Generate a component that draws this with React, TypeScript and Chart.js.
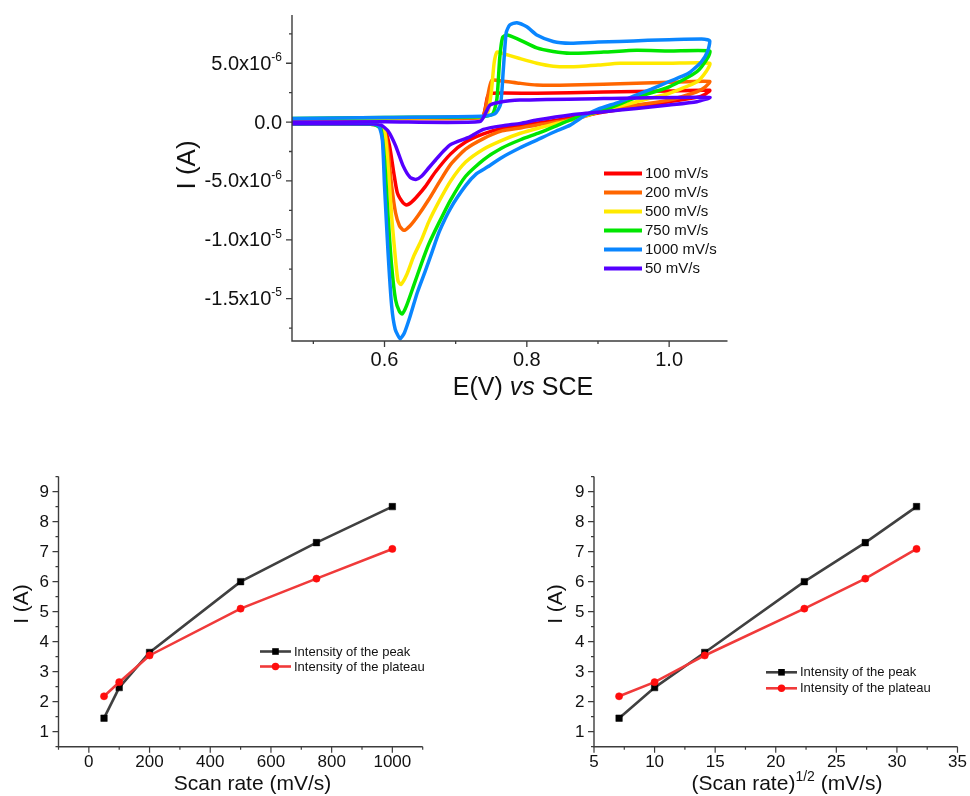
import React, { useEffect, useRef } from "react";
import { Chart, registerables } from "chart.js";

Chart.register(...registerables);

const FONT = '"Liberation Sans", Arial, Helvetica, sans-serif';
const AXIS_COLOR = "#3c3c3c";
const TEXT_COLOR = "#111111";

// ---------------- Top panel: cyclic voltammograms (E in V, I in µA) ----------------
const cvLabels = ["100 mV/s", "200 mV/s", "500 mV/s", "750 mV/s", "1000 mV/s", "50 mV/s"];
const cvColors = ["#ff0000", "#ff6600", "#ffea00", "#00e600", "#0a86ff", "#5500ff"];
const cvDrawOrder = [5, 4, 3, 2, 1, 0];

const E100 = [0.47, 0.60, 0.737, 0.741, 0.745, 0.750, 0.814, 0.908, 1.000, 1.057, 1.050, 1.039, 1.000, 0.954, 0.908, 0.861, 0.818, 0.791, 0.765, 0.739, 0.714, 0.693, 0.672, 0.657, 0.646, 0.638, 0.631, 0.626, 0.618, 0.613, 0.607, 0.600, 0.590, 0.580, 0.47];
const I100 = [0.2, 0.3, 0.4, 1.0, 2.2, 2.45, 2.45, 2.55, 2.65, 2.7, 2.35, 2.1, 1.73, 1.3, 0.85, 0.35, -0.05, -0.3, -0.55, -1.0, -1.7, -2.7, -4.2, -5.5, -6.3, -6.8, -7.05, -6.85, -6.0, -4.3, -2.0, -0.6, -0.25, -0.18, -0.15];

const E200 = [0.47, 0.60, 0.737, 0.742, 0.747, 0.751, 0.765, 0.790, 0.814, 0.861, 0.954, 1.000, 1.057, 1.050, 1.039, 1.000, 0.954, 0.908, 0.870, 0.818, 0.791, 0.765, 0.739, 0.714, 0.693, 0.677, 0.662, 0.6465, 0.636, 0.627, 0.621, 0.6155, 0.610, 0.605, 0.600, 0.590, 0.580, 0.47];
const I200 = [0.2, 0.3, 0.4, 1.2, 2.8, 3.55, 3.5, 3.3, 3.15, 3.15, 3.3, 3.38, 3.45, 2.95, 2.58, 1.87, 1.45, 0.95, 0.3, -0.2, -0.5, -0.75, -1.4, -2.3, -3.6, -5.1, -6.6, -8.0, -8.8, -9.2, -8.8, -7.7, -5.4, -2.5, -0.7, -0.25, -0.18, -0.15];

const E500 = [0.47, 0.60, 0.737, 0.745, 0.750, 0.754, 0.758, 0.765, 0.790, 0.814, 0.837, 0.861, 0.900, 0.931, 1.000, 1.057, 1.052, 1.039, 1.000, 0.954, 0.908, 0.861, 0.843, 0.817, 0.791, 0.765, 0.739, 0.714, 0.693, 0.677, 0.662, 0.652, 0.641, 0.631, 0.623, 0.619, 0.6155, 0.610, 0.605, 0.600, 0.590, 0.580, 0.47];
const I500 = [0.25, 0.35, 0.45, 0.8, 2.5, 5.0, 5.95, 5.85, 5.4, 5.0, 4.75, 4.7, 4.85, 5.0, 5.0, 5.0, 4.3, 3.43, 2.44, 1.73, 1.0, 0.15, -0.1, -0.5, -0.95, -1.55, -2.3, -3.4, -5.0, -6.7, -8.5, -10.0, -11.4, -13.0, -13.8, -13.5, -11.7, -8.0, -3.7, -0.8, -0.25, -0.18, -0.15];

const E750 = [0.47, 0.60, 0.737, 0.752, 0.758, 0.762, 0.766, 0.772, 0.786, 0.814, 0.837, 0.861, 0.908, 0.954, 1.000, 1.057, 1.055, 1.039, 1.000, 0.954, 0.908, 0.870, 0.843, 0.818, 0.791, 0.765, 0.739, 0.714, 0.693, 0.677, 0.662, 0.652, 0.641, 0.631, 0.625, 0.621, 0.6155, 0.610, 0.605, 0.600, 0.595, 0.585, 0.47];
const I750 = [0.3, 0.4, 0.45, 0.7, 2.0, 5.5, 7.2, 7.4, 7.1, 6.3, 6.0, 5.85, 5.95, 6.1, 6.05, 6.05, 5.55, 4.28, 3.0, 2.1, 1.02, 0.4, -0.28, -0.9, -1.5, -2.2, -3.2, -4.6, -6.6, -8.5, -10.4, -12.0, -13.9, -15.6, -16.3, -16.1, -15.1, -12.2, -8.0, -3.2, -0.6, -0.2, -0.15];

const E1000 = [0.47, 0.60, 0.737, 0.755, 0.763, 0.767, 0.771, 0.776, 0.786, 0.800, 0.814, 0.837, 0.861, 0.900, 0.930, 0.970, 1.000, 1.050, 1.057, 1.054, 1.045, 1.026, 1.000, 0.975, 0.950, 0.930, 0.900, 0.880, 0.861, 0.840, 0.814, 0.790, 0.765, 0.745, 0.729, 0.714, 0.693, 0.677, 0.667, 0.657, 0.646, 0.636, 0.628, 0.622, 0.615, 0.610, 0.605, 0.600, 0.597, 0.592, 0.580, 0.47];
const I1000 = [0.3, 0.4, 0.5, 0.7, 1.5, 4.5, 7.6, 8.25, 8.45, 8.1, 7.4, 6.85, 6.7, 6.8, 6.85, 6.95, 7.0, 7.05, 6.9, 6.0, 5.1, 4.1, 3.45, 2.8, 2.2, 1.7, 1.1, 0.5, -0.26, -0.8, -1.53, -2.2, -3.0, -3.8, -4.4, -5.4, -7.3, -9.3, -11.0, -12.7, -14.5, -16.5, -17.9, -18.4, -17.6, -15.6, -11.1, -5.4, -1.5, -0.34, -0.15, -0.15];

const E50 = [0.47, 0.60, 0.734, 0.744, 0.748, 0.758, 0.790, 0.908, 1.057, 1.039, 1.000, 0.954, 0.908, 0.861, 0.814, 0.791, 0.767, 0.739, 0.720, 0.693, 0.683, 0.672, 0.662, 0.652, 0.644, 0.636, 0.626, 0.6155, 0.605, 0.595, 0.580, 0.47];
const I50 = [0.0, 0.03, 0.05, 1.0, 1.45, 1.65, 1.87, 2.0, 2.1, 1.73, 1.45, 1.16, 0.88, 0.6, 0.17, -0.11, -0.3, -0.62, -1.25, -1.9, -2.46, -3.2, -3.9, -4.6, -4.87, -4.7, -3.7, -2.0, -0.76, -0.25, -0.15, -0.15];

const cvE = [E100, E200, E500, E750, E1000, E50];
const cvI = [I100, I200, I500, I750, I1000, I50];

const cvXMajor = [0.6, 0.8, 1.0];
const cvXLabels = ["0.6", "0.8", "1.0"];
const cvXMinor = [0.5, 0.7, 0.9];
const cvYMajor = [-15, -10, -5, 0, 5];
const cvYBase = ["-1.5x10", "-1.0x10", "-5.0x10", "0.0", "5.0x10"];
const cvYExp = ["-5", "-5", "-6", "", "-6"];
const cvYMinor = [-17.5, -12.5, -7.5, -2.5, 2.5, 7.5];

// ---------------- Bottom panels ----------------
const scanRates = [50, 100, 200, 500, 750, 1000];
const sqrtScanRates = [7.07, 10.0, 14.14, 22.36, 27.39, 31.62];
const peakIntensity = [1.45, 2.47, 3.64, 6.0, 7.3, 8.5];
const plateauIntensity = [2.18, 2.65, 3.54, 5.1, 6.1, 7.09];
const seriesNames = ["Intensity of the peak", "Intensity of the plateau"];

const rateXMajor = [0, 200, 400, 600, 800, 1000];
const rateXMinor = [-100, 100, 300, 500, 700, 900, 1100];
const sqrtXMajor = [5, 10, 15, 20, 25, 30, 35];
const sqrtXMinor = [7.5, 12.5, 17.5, 22.5, 27.5, 32.5];
const intYMajor = [1, 2, 3, 4, 5, 6, 7, 8, 9];
const intYMinor = [0.5, 1.5, 2.5, 3.5, 4.5, 5.5, 6.5, 7.5, 8.5, 9.5];

// ---------------- helpers ----------------
function drawAxes(chart: any, s: any) {
  const ctx = chart.ctx;
  const { left, right, top, bottom } = chart.chartArea;
  const xs = chart.scales.x;
  const ys = chart.scales.y;
  ctx.save();
  ctx.strokeStyle = AXIS_COLOR;
  ctx.lineWidth = s.axisWidth;
  ctx.beginPath();
  ctx.moveTo(left, top);
  ctx.lineTo(left, bottom);
  ctx.lineTo(right, bottom);
  ctx.stroke();
  ctx.lineWidth = s.tickWidth;
  ctx.beginPath();
  s.xMajor.forEach((v: number) => {
    const p = xs.getPixelForValue(v);
    ctx.moveTo(p, bottom);
    ctx.lineTo(p, bottom + s.majorLen);
  });
  s.xMinor.forEach((v: number) => {
    const p = xs.getPixelForValue(v);
    ctx.moveTo(p, bottom);
    ctx.lineTo(p, bottom + s.minorLen);
  });
  s.yMajor.forEach((v: number) => {
    const p = ys.getPixelForValue(v);
    ctx.moveTo(left, p);
    ctx.lineTo(left - s.majorLen, p);
  });
  s.yMinor.forEach((v: number) => {
    const p = ys.getPixelForValue(v);
    ctx.moveTo(left, p);
    ctx.lineTo(left - s.minorLen, p);
  });
  ctx.stroke();

  ctx.fillStyle = TEXT_COLOR;
  ctx.font = s.tickFont;
  ctx.textAlign = "center";
  ctx.textBaseline = "middle";
  s.xMajor.forEach((v: number, i: number) => {
    ctx.fillText(s.xLabels[i], xs.getPixelForValue(v), bottom + s.xLabelDy);
  });
  ctx.restore();
}

function drawRotatedTitle(ctx: any, text: string, x: number, y: number, font: string) {
  ctx.save();
  ctx.translate(x, y);
  ctx.rotate(-Math.PI / 2);
  ctx.font = font;
  ctx.fillStyle = TEXT_COLOR;
  ctx.textAlign = "center";
  ctx.textBaseline = "middle";
  ctx.fillText(text, 0, 0);
  ctx.restore();
}

// ---------------- chart configs ----------------
function cvConfig() {
  const datasets = cvLabels.map((label, k) => ({
    label,
    data: cvE[k].map((e, i) => ({ x: e, y: cvI[k][i] })),
    borderColor: cvColors[k],
    backgroundColor: cvColors[k],
    borderWidth: 3.5,
    pointRadius: 0,
    tension: 0.2,
    fill: false,
    order: cvDrawOrder[k],
  }));
  const decor = {
    id: "cvDecor",
    afterDraw(chart: any) {
      const ctx = chart.ctx;
      const { left } = chart.chartArea;
      const ys = chart.scales.y;
      drawAxes(chart, {
        axisWidth: 1.4, tickWidth: 1.3, majorLen: 6, minorLen: 3,
        xMajor: cvXMajor, xMinor: cvXMinor, xLabels: cvXLabels,
        yMajor: cvYMajor, yMinor: cvYMinor,
        tickFont: `20px ${FONT}`, xLabelDy: 19.5,
      });
      // y tick labels with superscript exponents
      ctx.save();
      ctx.fillStyle = TEXT_COLOR;
      ctx.textBaseline = "middle";
      ctx.textAlign = "right";
      cvYMajor.forEach((v, i) => {
        const py = ys.getPixelForValue(v);
        const xr = left - 10;
        let supW = 0;
        if (cvYExp[i]) {
          ctx.font = `12px ${FONT}`;
          supW = ctx.measureText(cvYExp[i]).width;
          ctx.fillText(cvYExp[i], xr, py - 5.5);
        }
        ctx.font = `20px ${FONT}`;
        ctx.fillText(cvYBase[i], xr - supW, py + 1);
      });
      ctx.restore();
      // x title: E(V) vs SCE
      ctx.save();
      ctx.fillStyle = TEXT_COLOR;
      ctx.textBaseline = "alphabetic";
      ctx.textAlign = "left";
      const parts = [
        { t: "E(V) ", f: `25px ${FONT}` },
        { t: "vs", f: `italic 25px ${FONT}` },
        { t: " SCE", f: `25px ${FONT}` },
      ];
      let total = 0;
      parts.forEach((p) => { ctx.font = p.f; total += ctx.measureText(p.t).width; });
      let x = 523 - total / 2;
      parts.forEach((p) => { ctx.font = p.f; ctx.fillText(p.t, x, 395); x += ctx.measureText(p.t).width; });
      ctx.restore();
      drawRotatedTitle(ctx, "I (A)", 188, 165, `26px ${FONT}`);
      // legend
      ctx.save();
      ctx.font = `15px ${FONT}`;
      ctx.textAlign = "left";
      ctx.textBaseline = "middle";
      cvLabels.forEach((lab, i) => {
        const y = 173.5 + 19 * i;
        ctx.strokeStyle = cvColors[i];
        ctx.lineWidth = 4;
        ctx.beginPath();
        ctx.moveTo(604, y);
        ctx.lineTo(642, y);
        ctx.stroke();
        ctx.fillStyle = TEXT_COLOR;
        ctx.fillText(lab, 645, y + 0.5);
      });
      ctx.restore();
    },
  };
  return {
    type: "line",
    data: { datasets },
    options: {
      animation: false,
      responsive: false,
      devicePixelRatio: 1,
      layout: { padding: { left: 0, top: 15, right: 970 - 727.5, bottom: 0 } },
      plugins: { legend: { display: false }, tooltip: { enabled: false } },
      scales: {
        x: {
          type: "linear", min: 0.47, max: 1.082,
          grid: { display: false, drawTicks: false }, border: { display: false },
          ticks: { display: false },
          afterFit: (sc: any) => { sc.height = 420 - 341; },
        },
        y: {
          type: "linear", min: -18.6, max: 9.1,
          grid: { display: false, drawTicks: false }, border: { display: false },
          ticks: { display: false },
          afterFit: (sc: any) => { sc.width = 292; },
        },
      },
    },
    plugins: [decor],
  };
}

function intensityConfig(opts: any) {
  const xVals = opts.xVals;
  const datasets = [
    {
      label: seriesNames[0],
      data: xVals.map((x: number, i: number) => ({ x, y: peakIntensity[i] })),
      borderColor: "#404040",
      backgroundColor: "#000000",
      pointBackgroundColor: "#000000",
      pointBorderColor: "#000000",
      pointStyle: "rect",
      pointRadius: 4.6,
      pointBorderWidth: 0.5,
      borderWidth: 2.6,
      tension: 0,
      order: 1,
    },
    {
      label: seriesNames[1],
      data: xVals.map((x: number, i: number) => ({ x, y: plateauIntensity[i] })),
      borderColor: "#f03a3a",
      backgroundColor: "#ff0d0d",
      pointBackgroundColor: "#ff0d0d",
      pointBorderColor: "#ff0d0d",
      pointStyle: "circle",
      pointRadius: 3.6,
      pointBorderWidth: 0.5,
      borderWidth: 2.6,
      tension: 0,
      order: 0,
    },
  ];
  const decor = {
    id: "intDecor",
    afterDraw(chart: any) {
      const ctx = chart.ctx;
      const { left } = chart.chartArea;
      const ys = chart.scales.y;
      drawAxes(chart, {
        axisWidth: 1.4, tickWidth: 1.2, majorLen: 6, minorLen: 3,
        xMajor: opts.xMajor, xMinor: opts.xMinor, xLabels: opts.xMajor.map((v: number) => String(v)),
        yMajor: intYMajor, yMinor: intYMinor,
        tickFont: `17px ${FONT}`, xLabelDy: 16,
      });
      ctx.save();
      ctx.fillStyle = TEXT_COLOR;
      ctx.font = `17px ${FONT}`;
      ctx.textAlign = "right";
      ctx.textBaseline = "middle";
      intYMajor.forEach((v) => ctx.fillText(String(v), left - 9.5, ys.getPixelForValue(v) + 0.5));
      ctx.restore();
      // x title
      ctx.save();
      ctx.fillStyle = TEXT_COLOR;
      ctx.textAlign = "left";
      ctx.textBaseline = "alphabetic";
      const parts = opts.titleParts;
      let total = 0;
      parts.forEach((p: any) => { ctx.font = p.f; total += ctx.measureText(p.t).width; });
      let x = opts.titleX - total / 2;
      parts.forEach((p: any) => {
        ctx.font = p.f;
        ctx.fillText(p.t, x, 350 + (p.dy || 0));
        x += ctx.measureText(p.t).width;
      });
      ctx.restore();
      drawRotatedTitle(ctx, "I (A)", opts.yTitleX, 164, `21px ${FONT}`);
      // legend
      ctx.save();
      ctx.font = `13px ${FONT}`;
      ctx.textAlign = "left";
      ctx.textBaseline = "middle";
      const lg = opts.legend;
      datasets.forEach((ds: any, i: number) => {
        const y = lg.y + lg.dy * i;
        ctx.strokeStyle = ds.borderColor;
        ctx.lineWidth = 2.6;
        ctx.beginPath();
        ctx.moveTo(lg.x0, y);
        ctx.lineTo(lg.x1, y);
        ctx.stroke();
        const mx = (lg.x0 + lg.x1) / 2;
        ctx.fillStyle = ds.pointBackgroundColor;
        if (ds.pointStyle === "rect") {
          ctx.fillRect(mx - 3.3, y - 3.3, 6.6, 6.6);
        } else {
          ctx.beginPath();
          ctx.arc(mx, y, 3.7, 0, Math.PI * 2);
          ctx.fill();
        }
        ctx.fillStyle = TEXT_COLOR;
        ctx.fillText(ds.label, lg.x1 + 3, y + 0.5);
      });
      ctx.restore();
    },
  };
  return {
    type: "line",
    data: { datasets },
    options: {
      animation: false,
      responsive: false,
      devicePixelRatio: 1,
      layout: { padding: { left: 0, top: 36.6, right: opts.padRight, bottom: 0 } },
      plugins: { legend: { display: false }, tooltip: { enabled: false } },
      scales: {
        x: {
          type: "linear", min: opts.xMin, max: opts.xMax,
          grid: { display: false, drawTicks: false }, border: { display: false },
          ticks: { display: false },
          afterFit: (sc: any) => { sc.height = 356 - 306.7; },
        },
        y: {
          type: "linear", min: 0.5, max: 9.5,
          grid: { display: false, drawTicks: false }, border: { display: false },
          ticks: { display: false },
          afterFit: (sc: any) => { sc.width = opts.yWidth; },
        },
      },
    },
    plugins: [decor],
  };
}

function ChartBox(props: { make: () => any; left: number; top: number; width: number; height: number }) {
  const ref = useRef<HTMLCanvasElement | null>(null);
  useEffect(() => {
    const chart = new Chart(ref.current as HTMLCanvasElement, props.make() as any);
    return () => chart.destroy();
  }, []);
  return (
    <div style={{ position: "absolute", left: props.left, top: props.top, width: props.width, height: props.height }}>
      <canvas ref={ref} width={props.width} height={props.height} style={{ width: props.width, height: props.height, display: "block" }} />
    </div>
  );
}

export default function App() {
  return (
    <div style={{ position: "absolute", left: 0, top: 0, width: 970, height: 796, background: "#ffffff", overflow: "hidden" }}>
      <ChartBox make={cvConfig} left={0} top={0} width={970} height={420} />
      <ChartBox
        make={() =>
          intensityConfig({
            xVals: scanRates, xMin: -100, xMax: 1100, xMajor: rateXMajor, xMinor: rateXMinor,
            padRight: 470 - 422.7, yWidth: 58.5, yTitleX: 22.5, titleX: 252.5,
            titleParts: [{ t: "Scan rate (mV/s)", f: `21px ${FONT}` }],
            legend: { x0: 260, x1: 291, y: 211.5, dy: 15 },
          })
        }
        left={0} top={440} width={470} height={356}
      />
      <ChartBox
        make={() =>
          intensityConfig({
            xVals: sqrtScanRates, xMin: 5, xMax: 35, xMajor: sqrtXMajor, xMinor: sqrtXMinor,
            padRight: 485 - 472.5, yWidth: 109, yTitleX: 71.7, titleX: 302,
            titleParts: [
              { t: "(Scan rate)", f: `21px ${FONT}` },
              { t: "1/2", f: `14px ${FONT}`, dy: -9 },
              { t: " (mV/s)", f: `21px ${FONT}` },
            ],
            legend: { x0: 281, x1: 312, y: 232.3, dy: 16 },
          })
        }
        left={485} top={440} width={485} height={356}
      />
    </div>
  );
}
